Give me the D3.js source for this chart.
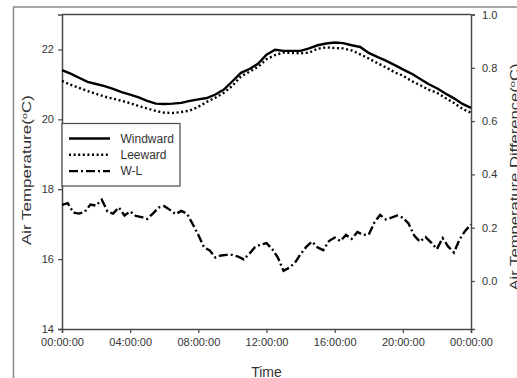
<!DOCTYPE html>
<html>
<head>
<meta charset="utf-8">
<script src="https://cdn.jsdelivr.net/npm/d3@7"></script>
<style>
  html, body { margin: 0; padding: 0; background: #fff; }
  svg { display: block; font-family: "Liberation Sans", Arial, sans-serif; }
</style>
</head>
<body>
<svg id="chart" width="517" height="378"></svg>
<script>
// ---- data ----
// Windward / Leeward air temperature (°C), every 30 min from 00:00 to 24:00
const halfHours = d3.range(0, 24.01, 0.5);
const windward = [21.41,21.31,21.19,21.07,21.01,20.95,20.87,20.78,20.71,20.63,20.53,20.45,20.44,20.45,20.47,20.53,
  20.57,20.61,20.71,20.85,21.09,21.33,21.44,21.59,21.85,21.99,21.96,21.96,21.96,22.03,22.12,22.17,22.20,22.18,22.12,
  22.07,21.90,21.79,21.68,21.56,21.43,21.31,21.16,21.01,20.89,20.74,20.60,20.44,20.33];
const leeward = [21.10,20.99,20.90,20.81,20.73,20.65,20.59,20.53,20.46,20.38,20.31,20.24,20.19,20.18,20.21,20.25,
  20.36,20.50,20.62,20.76,20.96,21.23,21.36,21.50,21.72,21.84,21.91,21.90,21.89,21.91,22.02,22.06,22.04,22.03,21.97,
  21.86,21.74,21.61,21.49,21.35,21.25,21.10,20.98,20.85,20.76,20.61,20.47,20.30,20.19];
// W-L difference (°C), every 20 min
const wlTimes = d3.range(0, 24.01, 1/3);
const wl = [0.286,0.292,0.257,0.253,0.259,0.287,0.283,0.305,0.261,0.253,0.276,0.246,0.261,0.244,0.240,0.233,
  0.253,0.276,0.281,0.267,0.251,0.263,0.253,0.214,0.173,0.126,0.115,0.088,0.096,0.098,0.098,0.092,0.081,0.103,
  0.128,0.137,0.142,0.120,0.088,0.038,0.050,0.068,0.101,0.128,0.148,0.126,0.116,0.150,0.163,0.150,0.173,0.158,
  0.184,0.173,0.174,0.220,0.248,0.231,0.238,0.246,0.238,0.216,0.171,0.148,0.165,0.144,0.120,0.161,0.129,0.107,
  0.156,0.189,0.212];
const xTicks = [0, 4, 8, 12, 16, 20, 24];
const xTickLabels = ["00:00:00","04:00:00","08:00:00","12:00:00","16:00:00","20:00:00","00:00:00"];
const leftTicks = [14, 16, 18, 20, 22];
const rightTicks = [0.0, 0.2, 0.4, 0.6, 0.8, 1.0];
const seriesNames = ["Windward", "Leeward", "W-L"];

// ---- layout ----
const svg = d3.select("#chart");
const L = 62, R = 471, T = 14.5, B = 329;
const axisColor = "#4a4a4a", textColor = "#333";

const x = d3.scaleLinear().domain([0, 24]).range([L, R]);
const yL = d3.scaleLinear().domain([14, 23]).range([B, T]);
const yR = d3.scaleLinear().domain([-0.18, 1.0]).range([B, T]);

// outer frame
svg.append("rect").attr("x", 13.5).attr("y", 7).attr("width", 700).attr("height", 700)
  .attr("fill", "none").attr("stroke", "#8a8a8a").attr("stroke-width", 1.5);

// plot top border
svg.append("line").attr("x1", L).attr("x2", R).attr("y1", T).attr("y2", T)
  .attr("stroke", axisColor).attr("stroke-width", 1.5);

function styleAxis(g) {
  g.selectAll(".domain").attr("stroke", axisColor).attr("stroke-width", 1.5);
  g.selectAll(".tick line").attr("stroke", axisColor).attr("stroke-width", 1.2);
  g.selectAll(".tick text").attr("fill", textColor).style("font-size", "11px")
    .style("font-family", "'Liberation Sans', Arial, sans-serif");
}

const gx = svg.append("g").attr("transform", `translate(0,${B})`)
  .call(d3.axisBottom(x).tickValues(xTicks).tickFormat((d, i) => xTickLabels[i]).tickSizeOuter(0).tickSize(4).tickPadding(5));
styleAxis(gx);

const gl = svg.append("g").attr("transform", `translate(${L},0)`)
  .call(d3.axisLeft(yL).tickValues(leftTicks).tickFormat(d3.format("d")).tickSizeOuter(0).tickSize(4).tickPadding(4));
styleAxis(gl);

const gr = svg.append("g").attr("transform", `translate(${R},0)`)
  .call(d3.axisRight(yR).tickValues(rightTicks).tickFormat(d3.format(".1f")).tickSizeOuter(0).tickSize(4).tickPadding(7));
styleAxis(gr);

// lines
const lineL = d3.line().x(d => x(d[0])).y(d => yL(d[1]));
const lineR = d3.line().x(d => x(d[0])).y(d => yR(d[1]));

svg.append("path").datum(halfHours.map((t, i) => [t, leeward[i]]))
  .attr("d", lineL).attr("fill", "none").attr("stroke", "#000").attr("stroke-width", 2.4)
  .attr("stroke-dasharray", "2,2.6");
svg.append("path").datum(halfHours.map((t, i) => [t, windward[i]]))
  .attr("d", lineL).attr("fill", "none").attr("stroke", "#000").attr("stroke-width", 2.4);
svg.append("path").datum(wlTimes.map((t, i) => [t, wl[i]]))
  .attr("d", lineR).attr("fill", "none").attr("stroke", "#000").attr("stroke-width", 2.4)
  .attr("stroke-dasharray", "9,3,2,3");

// legend
const lg = svg.append("g");
lg.append("rect").attr("x", L).attr("y", 123.5).attr("width", 118).attr("height", 62.5)
  .attr("fill", "#fff").attr("stroke", axisColor).attr("stroke-width", 1.2);
const dashes = [null, "2,2.6", "9,3,2,3"];
seriesNames.forEach((name, i) => {
  const yy = 138.5 + i * 16.3;
  lg.append("line").attr("x1", 69).attr("x2", 110).attr("y1", yy).attr("y2", yy)
    .attr("stroke", "#000").attr("stroke-width", 2.4)
    .attr("stroke-dasharray", dashes[i]);
  lg.append("text").attr("x", 120.5).attr("y", yy + 4).text(name)
    .attr("fill", textColor).style("font-size", "12px");
});

// axis titles
svg.append("text").attr("x", (L + R) / 2).attr("y", 376.5).attr("text-anchor", "middle")
  .attr("fill", textColor).style("font-size", "14px").text("Time");

function yTitle(xpos, ypos, len, label) {
  const t = svg.append("text").attr("transform", `translate(${xpos},${ypos}) rotate(-90)`)
    .attr("text-anchor", "middle").attr("fill", textColor).style("font-size", "12px")
    .attr("textLength", len).attr("lengthAdjust", "spacingAndGlyphs");
  t.append("tspan").text(label);
  t.append("tspan").attr("dy", -4).style("font-size", "8px").text("o");
  t.append("tspan").attr("dy", 4).text("C)");
}
yTitle(30.5, 170, 150, "Air Temperature(");
yTitle(519, 177, 227, "Air Temperature Difference(");
</script>
</body>
</html>
